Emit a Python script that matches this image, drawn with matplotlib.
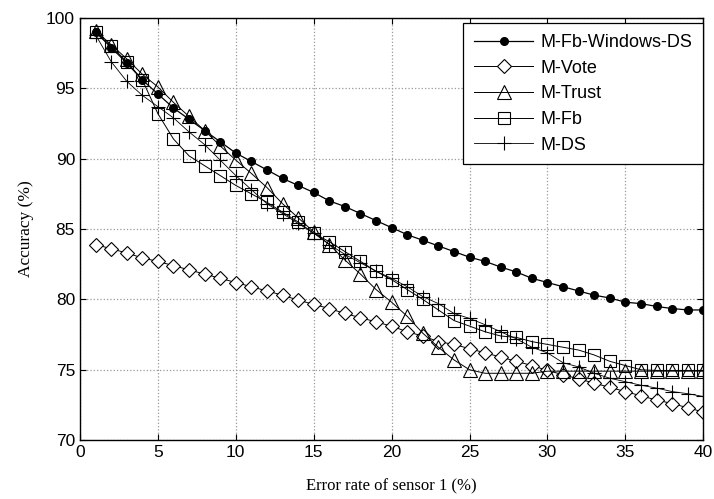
import numpy as np
import matplotlib.pyplot as plt

err_rate = list(range(1, 41))

m_fb_windows_ds = [99.0, 97.9, 96.8, 95.6, 94.6, 93.6, 92.8, 92.0, 91.2, 90.4,
                   89.8, 89.2, 88.6, 88.1, 87.6, 87.0, 86.6, 86.1, 85.6, 85.1,
                   84.6, 84.2, 83.8, 83.4, 83.0, 82.7, 82.3, 81.95, 81.5, 81.2,
                   80.9, 80.6, 80.3, 80.1, 79.8, 79.7, 79.5, 79.35, 79.25, 79.25]
m_vote = [83.9, 83.6, 83.3, 82.95, 82.7, 82.4, 82.1, 81.8, 81.5, 81.2,
          80.9, 80.6, 80.3, 79.95, 79.65, 79.35, 79.0, 78.7, 78.4, 78.1,
          77.7, 77.4, 77.0, 76.8, 76.5, 76.2, 75.9, 75.6, 75.3, 74.95,
          74.65, 74.35, 74.05, 73.75, 73.45, 73.15, 72.85, 72.6, 72.3, 72.0]
m_trust = [99.1, 98.1, 97.1, 96.0, 95.1, 94.0, 93.0, 92.0, 90.9, 89.9,
           88.95, 87.95, 86.8, 85.8, 84.8, 83.9, 82.8, 81.8, 80.7, 79.8,
           78.8, 77.6, 76.6, 75.7, 75.0, 74.75, 74.75, 74.75, 74.75, 74.9,
           74.9, 74.9, 74.9, 74.9, 74.9, 74.9, 74.9, 74.9, 74.9, 74.9]
m_fb = [99.0, 98.0, 96.9, 95.6, 93.2, 91.4, 90.2, 89.5, 88.8, 88.1,
        87.5, 86.9, 86.2, 85.5, 84.7, 84.1, 83.4, 82.7, 82.0, 81.4,
        80.7, 80.0, 79.25, 78.5, 78.1, 77.7, 77.4, 77.3, 77.0, 76.8,
        76.6, 76.4, 76.05, 75.6, 75.3, 75.0, 74.95, 74.95, 74.95, 74.95]
m_ds = [98.8, 96.9, 95.5, 94.5, 93.7, 92.9, 91.9, 91.0, 89.9, 88.8,
        87.8, 86.8, 86.1, 85.4, 84.7, 83.9, 83.2, 82.6, 82.0, 81.5,
        80.9, 80.2, 79.7, 79.0, 78.65, 78.2, 77.7, 77.2, 76.6, 76.2,
        75.5, 75.2, 74.75, 74.4, 74.15, 73.9, 73.7, 73.45, 73.3, 73.1]

fig = plt.figure(figsize=(7.14, 4.99), dpi=100)
ax = fig.add_axes([0.112, 0.118, 0.873, 0.846])

ax.plot(err_rate, m_fb_windows_ds, 'k-', marker='o', markersize=5.5, lw=0.9,
        label='M-Fb-Windows-DS')
ax.plot(err_rate, m_vote, 'k-', marker='D', markersize=7.5, mfc='white', mew=0.8, lw=0.7,
        label='M-Vote')
ax.plot(err_rate, m_trust, 'k-', marker='^', markersize=10, mfc='none', mew=0.8, lw=0.7,
        label='M-Trust')
ax.plot(err_rate, m_fb, 'k-', marker='s', markersize=9, mfc='none', mew=0.8, lw=0.7,
        label='M-Fb')
ax.plot(err_rate, m_ds, 'k-', marker='+', markersize=10, mew=0.8, lw=0.6,
        label='M-DS')

ax.set_xlim(0, 40)
ax.set_ylim(70, 100)
ax.set_xticks(np.arange(0, 41, 5))
ax.set_yticks(np.arange(70, 101, 5))
ax.grid(True, color='#999999', linestyle=':', linewidth=0.9)
ax.tick_params(direction='in', top=True, right=True, labelsize=12.5, length=4)
for t in ax.get_xticklabels() + ax.get_yticklabels():
    t.set_fontfamily('Liberation Sans')
for s in ax.spines.values():
    s.set_linewidth(1.0)

ax.set_xlabel('Error rate of sensor 1 (%)', family='Liberation Serif', fontsize=12, labelpad=13)
ax.set_ylabel('Accuracy (%)', family='Liberation Serif', fontsize=12.5, labelpad=9)

leg = ax.legend(loc='upper right', bbox_to_anchor=(1.0, 0.988),
                prop={'family': 'Liberation Sans', 'size': 13},
                fancybox=False, edgecolor='black', handlelength=3.3, framealpha=1,
                borderaxespad=0, borderpad=0.6, labelspacing=0.48, handletextpad=0.4)
leg.get_frame().set_linewidth(0.9)

plt.savefig('out.png', dpi=100)
